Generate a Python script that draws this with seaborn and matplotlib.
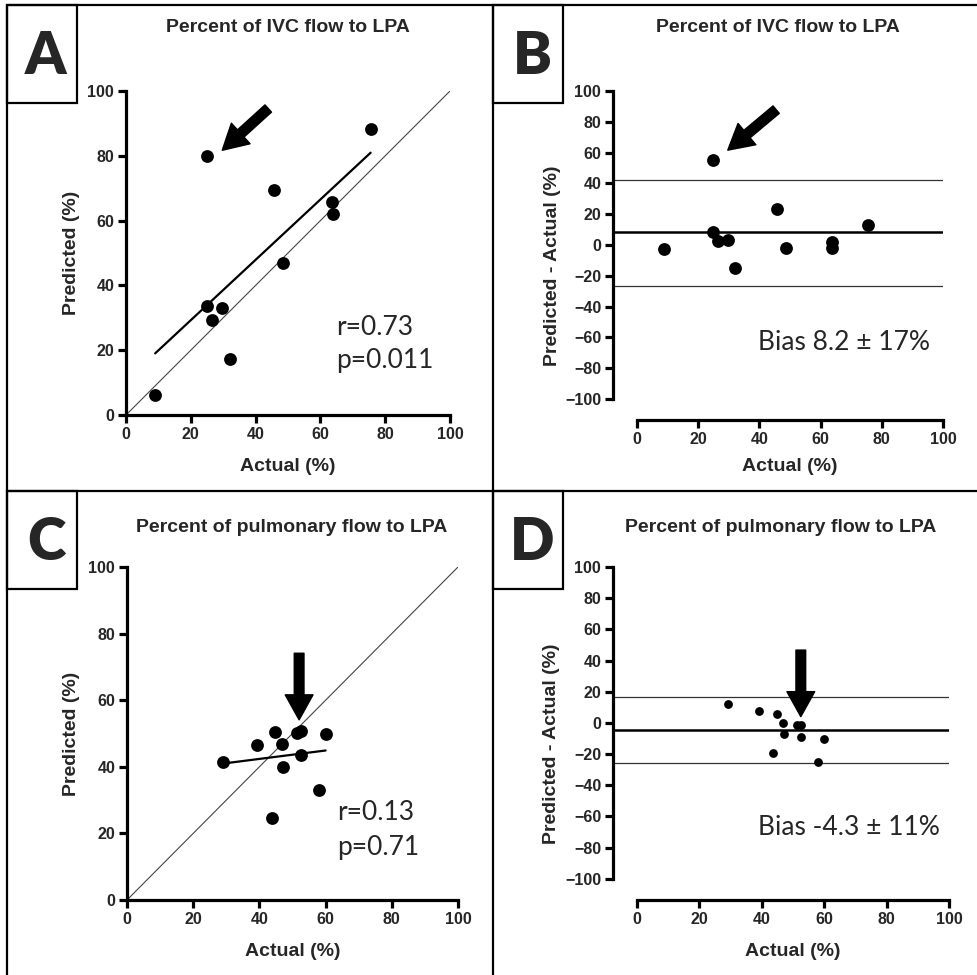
import numpy as np
import seaborn as sns
import matplotlib.pyplot as plt
from matplotlib.lines import Line2D
from matplotlib.patches import Rectangle

# Percent of IVC flow to LPA (panels A, B)
ivc_actual = [9.0, 24.9, 24.9, 26.6, 29.7, 32.1, 45.7, 48.6, 63.7, 63.9, 75.5]
ivc_pred = [6.2, 79.9, 33.6, 29.3, 32.9, 17.2, 69.4, 46.8, 65.6, 62.0, 88.2]
ivc_bias = 8.2
ivc_loa = [42.3, -26.3]

# Percent of pulmonary flow to LPA (panels C, D)
pulm_actual = [29.1, 39.2, 44.8, 46.7, 47.0, 43.7, 51.3, 52.5, 52.6, 60.0, 58.1]
pulm_pred = [41.3, 46.6, 50.4, 46.8, 40.0, 24.5, 50.1, 50.9, 43.4, 49.7, 33.1]
pulm_bias = -4.3
pulm_loa = [16.6, -25.8]

titles = ["Percent of IVC flow to LPA", "Percent of pulmonary flow to LPA"]
stats_text = [("r=0.73", "p=0.011"), ("r=0.13", "p=0.71")]
bias_text = ["Bias 8.2 \u00b1 17%", "Bias -4.3 \u00b1 11%"]
ticks_pct = [0, 20, 40, 60, 80, 100]
ticks_diff = [-100, -80, -60, -40, -20, 0, 20, 40, 60, 80, 100]

sns.set_style("ticks")
plt.rcParams["font.family"] = ["Liberation Sans", "DejaVu Sans"]
plt.rcParams["font.weight"] = "bold"
plt.rcParams["axes.labelweight"] = "bold"

W, H = 978, 975
fig = plt.figure(figsize=(W / 100, H / 100), dpi=100)


def px_axes(left, top, right, bottom):
    return fig.add_axes([left / W, 1 - bottom / H, (right - left) / W, (bottom - top) / H])


def fig_line(x0, y0, x1, y1):
    fig.add_artist(Line2D([x0 / W, x1 / W], [1 - y0 / H, 1 - y1 / H],
                          transform=fig.transFigure, color="black", lw=1.6))


def style_axes(ax):
    sns.despine(ax=ax)
    for s in ["left", "bottom"]:
        ax.spines[s].set_linewidth(2.3)
        ax.spines[s].set_color("black")
    ax.tick_params(width=2.3, length=5.5, labelsize=11.5, color="black", pad=3)
    for lbl in ax.get_xticklabels() + ax.get_yticklabels():
        lbl.set_fontweight("bold")


arrow_kw = dict(facecolor="black", edgecolor="black", width=7, headwidth=20,
                headlength=18, shrink=0)


def corr_panel(ax, actual, pred, txt, arrow_tail, arrow_head, txt_pos, xlab_y):
    ax.axline((0, 0), slope=1, color="#444444", lw=0.8, zorder=1)
    sns.regplot(x=np.array(actual), y=np.array(pred), scatter=False, ci=None,
                ax=ax, color="black", line_kws=dict(lw=1.6), truncate=True)
    sns.scatterplot(x=actual, y=pred, ax=ax, color="black", s=85,
                    linewidth=0, zorder=3, clip_on=False)
    ax.set_xlim(0, 100)
    ax.set_ylim(0, 100)
    ax.set_xticks(ticks_pct)
    ax.set_yticks(ticks_pct)
    ax.set_xlabel("Actual (%)", fontsize=14)
    ax.set_ylabel("Predicted (%)", fontsize=14)
    ax.xaxis.set_label_coords(0.5, xlab_y)
    ax.yaxis.set_label_coords(-0.142, 0.5)
    ax.annotate("", xy=arrow_head, xytext=arrow_tail, arrowprops=arrow_kw)
    ax.text(txt_pos[0], txt_pos[1][0], txt[0], fontsize=19, fontweight="normal",
            family="Lato", va="center", ha="left")
    ax.text(txt_pos[0], txt_pos[1][1], txt[1], fontsize=19, fontweight="normal",
            family="Lato", va="center", ha="left")
    style_axes(ax)


def ba_panel(ax, actual, pred, bias, loa, txt, arrow_tail, arrow_head, txt_pos, size,
             x0, xlab_y):
    diff = np.array(pred) - np.array(actual)
    ax.axhline(bias, color="black", lw=1.8, zorder=2)
    for v in loa:
        ax.axhline(v, color="#333333", lw=0.9, zorder=2)
    sns.scatterplot(x=actual, y=diff, ax=ax, color="black", s=size,
                    linewidth=0, zorder=3)
    ax.set_xlim(x0, 100)
    ax.set_ylim(-113.6, 100)
    ax.spines["left"].set_bounds(-100, 100)
    ax.spines["bottom"].set_bounds(0, 100)
    ax.set_xticks(ticks_pct)
    ax.set_yticks(ticks_diff)
    ax.set_xlabel("Actual (%)", fontsize=14)
    ax.set_ylabel("Predicted - Actual (%)", fontsize=14)
    ax.xaxis.set_label_coords(0.536, xlab_y)
    ax.yaxis.set_label_coords(-0.158, 0.47)
    ax.annotate("", xy=arrow_head, xytext=arrow_tail, arrowprops=arrow_kw)
    ax.text(txt_pos[0], txt_pos[1], txt, fontsize=19, fontweight="normal",
            family="Lato", va="center", ha="left")
    style_axes(ax)


axA = px_axes(126, 91, 450, 415)
corr_panel(axA, ivc_actual, ivc_pred, stats_text[0], (43.9, 94.6), (29.7, 81.7),
           (65, (27, 16.7)), -0.133)

axB = px_axes(613, 91, 943, 420)
ba_panel(axB, ivc_actual, ivc_pred, ivc_bias, ivc_loa, bias_text[0],
         (45.5, 87.9), (29.7, 61.6), (39.5, -63), 85, -7.8, -0.115)

axC = px_axes(127, 567, 458, 900)
corr_panel(axC, pulm_actual, pulm_pred, stats_text[1], (52.0, 74.1), (52.0, 54.1),
           (63.4, (26.4, 15.9)), -0.129)

axD = px_axes(613, 567, 949, 900)
ba_panel(axD, pulm_actual, pulm_pred, pulm_bias, pulm_loa, bias_text[1],
         (52.5, 46.7), (52.5, 4.0), (38.8, -67.3), 40, -7.7, -0.129)

# titles
for (cx, cy), t in zip([(288, 28), (778, 28), (292, 528), (781, 528)],
                       [titles[0], titles[0], titles[1], titles[1]]):
    fig.text(cx / W, 1 - cy / H, t, ha="center", va="center", fontsize=14,
             fontweight="bold")

# panel frame
fig_line(7, 5, 978, 5)
fig_line(7, 5, 7, 975)
fig_line(493, 5, 493, 975)
fig_line(7, 491, 978, 491)

# panel letters in boxes
for (x0, y0), letter in zip([(7, 5), (493, 5), (7, 491), (493, 491)], "ABCD"):
    fig.add_artist(Rectangle((x0 / W, 1 - (y0 + 98) / H), 70 / W, 98 / H,
                             transform=fig.transFigure, fill=False,
                             edgecolor="black", lw=1.6))
    fig.text((x0 + 39) / W, 1 - (y0 + 51) / H, letter, ha="center", va="center",
             fontsize=42, fontweight="heavy", family="Lato")

fig.savefig("out.png", dpi=100)
